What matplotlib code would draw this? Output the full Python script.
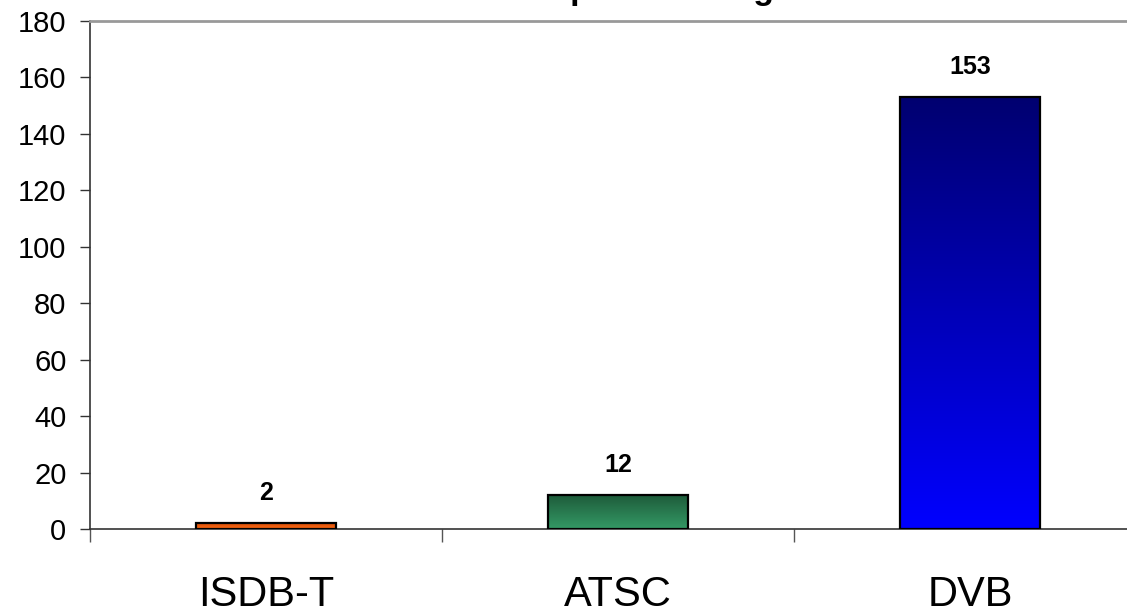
import numpy as np
import matplotlib
matplotlib.use("Agg")
import matplotlib.pyplot as plt
from matplotlib.colors import LinearSegmentedColormap

plt.rcParams['font.family'] = ['Liberation Sans', 'DejaVu Sans']

categories = ["ISDB-T", "ATSC", "DVB"]
values = [2, 12, 153]
title = "DTT Standard Adoption among Countries"
yticks = [0, 20, 40, 60, 80, 100, 120, 140, 160, 180]
grad_top = ["#D9500A", "#1E5B3A", "#000070"]
grad_bottom = ["#FF6A14", "#349A66", "#0000FF"]

W, H = 1127, 613
fig = plt.figure(figsize=(W / 100, H / 100), dpi=100)
ax = fig.add_axes([90 / W, (H - 529) / H, 1056 / W, 508 / H])

x = np.arange(len(categories)) + 0.5
bars = ax.bar(x, values, width=0.4, color="none", edgecolor="black",
              linewidth=1.6, zorder=3)
for b, ct, cb in zip(bars, grad_top, grad_bottom):
    cmap = LinearSegmentedColormap.from_list("g", [cb, ct])
    x0, y0 = b.get_x(), b.get_y()
    w, h = b.get_width(), b.get_height()
    grad = np.linspace(0, 1, 256).reshape(-1, 1)
    im = ax.imshow(grad, cmap=cmap, aspect="auto", origin="lower",
                   extent=[x0, x0 + w, y0, y0 + h], zorder=2)
    im.set_clip_path(b)

for xi, v in zip(x, values):
    ax.annotate(str(v), (xi, v), xytext=(0, 22), textcoords="offset points",
                ha="center", va="center", fontsize=18, fontweight="bold")

ax.set_xlim(0, 3)
ax.set_ylim(0, 180)
ax.set_yticks(yticks)
ax.set_yticklabels([str(t) for t in yticks], fontsize=21)
ax.tick_params(axis="y", direction="out", length=7, width=1, color="#333333", pad=10)

ax.set_xticks([0, 1, 2, 3])
ax.set_xticklabels(["", "", "", ""])
ax.tick_params(axis="x", which="major", direction="out", length=9.5, width=1,
               color="#555555")
ax.set_xticks(x, minor=True)
ax.set_xticklabels(categories, minor=True, fontsize=30)
ax.tick_params(axis="x", which="minor", length=0, pad=33)

ax.spines["top"].set_color("#999999")
ax.spines["top"].set_linewidth(2)
ax.spines["left"].set_color("#333333")
ax.spines["left"].set_linewidth(1.2)
ax.spines["bottom"].set_color("#333333")
ax.spines["bottom"].set_linewidth(1.2)
ax.spines["right"].set_visible(False)

fig.text((90 + 518) / W, 1 + 1.5 / H, title, ha="center", va="baseline",
         fontsize=24.5, fontweight="bold")

fig.savefig("out.png", dpi=100)
